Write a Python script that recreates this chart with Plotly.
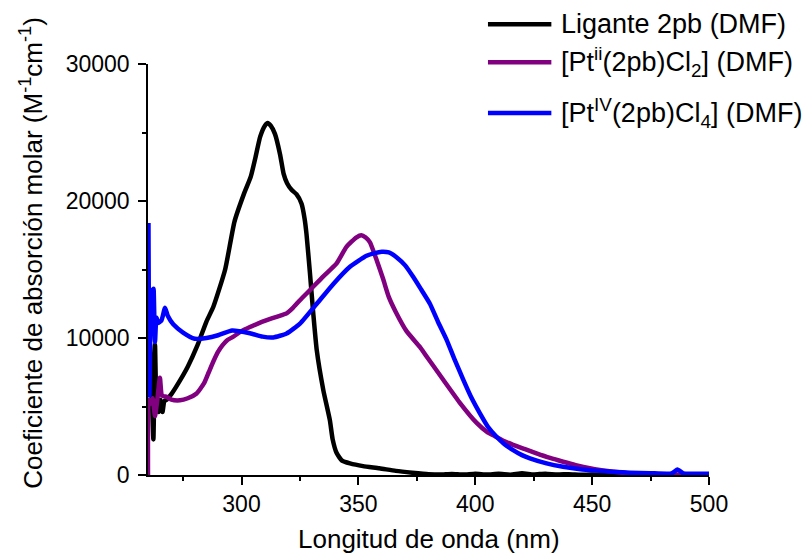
import plotly.graph_objects as go

# ---------------- data ----------------
wl_lig = [260.2, 260.7, 261.5, 262.3, 263, 263.7, 264.5, 265.3, 266.2, 267, 268, 270, 273, 277,
          281, 285, 288, 293, 297, 301, 304, 306, 308, 310, 311.2, 312.5, 314.3, 316.5, 318,
          319.5, 321.5, 323.5, 325.7, 327, 327.8, 329.3, 330.7, 332.2, 335, 337.8, 339, 340.7,
          343, 346.4, 352, 359, 366, 373, 380, 385, 390, 395, 400, 405, 410, 415, 420, 425,
          430, 435, 440, 445, 450, 460, 470, 480, 490, 500]
eps_lig = [8000, 9800, 6500, 2600, 9500, 5000, 4600, 5500, 4600, 5400, 5500, 5900, 6700, 7900,
           9400, 11200, 12300, 15000, 18500, 20500, 21800, 23200, 24700, 25500, 25700, 25500,
           24900, 23400, 22000, 21300, 20800, 20500, 19800, 18700, 17600, 14700, 11800, 9100,
           6200, 4000, 2600, 1600, 1050, 850, 650, 490, 300, 170, 60, 30, 80, 30, 100, 30, 90,
           20, 120, 40, 100, 30, 60, 20, 30, 0, 0, 0, 0, 0]

wl_pt2 = [260, 260.3, 261, 262, 263, 264, 265.1, 266, 268, 270, 273.7, 277, 280.8, 284, 286,
          288, 290, 292, 294, 296.5, 300, 303.6, 307, 310.8, 315, 319.3, 322, 325, 329.3, 335,
          340.7, 344.9, 349.2, 351.3, 353, 354.9, 357.8, 360.6, 363, 366, 370.6, 376.3, 379.2,
          386.3, 393.5, 400.6, 405, 407.7, 412, 416.2, 421, 426.2, 432, 437.6, 443, 449, 454,
          459, 465, 470, 480, 490, 500]
eps_pt2 = [0, 5500, 5200, 5600, 4300, 5500, 7100, 5800, 5700, 5500, 5450, 5600, 5950, 6700, 7500,
           8300, 9000, 9500, 9850, 10100, 10500, 10800, 11050, 11300, 11550, 11800, 12200, 12760,
           13500, 14500, 15450, 16650, 17350, 17500, 17350, 17000, 15700, 14300, 13000, 11900,
           10500, 9350, 8650, 6950, 5250, 3800, 3150, 2900, 2500, 2200, 1900, 1580, 1250, 970,
           720, 490, 350, 240, 120, 60, 20, 10, 0]

wl_pt4 = [260.2, 260.6, 261.3, 262, 262.4, 263, 263.6, 264.4, 265.8, 267.3, 268.5, 270.8, 275,
          280, 285, 290, 296, 303.6, 309, 313.6, 319.3, 325, 332.2, 339.3, 346.4, 353.5, 357,
          360, 363, 366.3, 370, 373.5, 377, 380.6, 384, 387.8, 391, 394.9, 398.5, 402, 405.5,
          409.1, 412.5, 416.2, 420, 423.4, 430.5, 437.6, 445, 451.9, 460, 466.2, 475, 484,
          486.5, 487.5, 489, 495, 500]
eps_pt4 = [18400, 5800, 13500, 11500, 13600, 9700, 11500, 11100, 11300, 12200, 11600, 11000,
           10400, 9950, 10000, 10200, 10550, 10350, 10100, 10040, 10330, 11050, 12500, 13950,
           15200, 16000, 16200, 16300, 16250, 15900, 15300, 14450, 13500, 12500, 11200, 9850,
           8500, 6950, 5600, 4500, 3500, 2790, 2250, 1820, 1450, 1220, 850, 600, 420, 320, 220,
           170, 130, 120, 400, 300, 120, 100, 90]

series_names = ["Ligante 2pb (DMF)",
                "[Pt<sup>ii</sup>(2pb)Cl<sub>2</sub>] (DMF)",
                "[Pt<sup>IV</sup>(2pb)Cl<sub>4</sub>] (DMF)"]
series_colors = ["#000000", "#800080", "#0000FF"]

x_ticks = [300, 350, 400, 450, 500]
y_ticks = [0, 10000, 20000, 30000]

FONT = "Arial, 'Liberation Sans', sans-serif"

fig = go.Figure()
for wl, eps, name, col in zip([wl_lig, wl_pt2, wl_pt4], [eps_lig, eps_pt2, eps_pt4],
                              series_names, series_colors):
    fig.add_trace(go.Scatter(x=wl, y=eps, mode="lines", name=name,
                             line=dict(color=col, width=4.5, shape="spline", smoothing=0.5),
                             showlegend=False))

axis_common = dict(showgrid=False, zeroline=False, showline=True, linecolor="black",
                   linewidth=1.5, ticks="outside", ticklen=8, tickwidth=1.5,
                   tickcolor="black", tickfont=dict(family=FONT, size=23, color="black"))

fig.update_xaxes(range=[260, 500], tickvals=x_ticks, ticktext=[str(v) for v in x_ticks],
                 minor=dict(ticks="outside", ticklen=4, tickwidth=1.5, tickcolor="black",
                            tickvals=[275, 325, 375, 425, 475]),
                 **axis_common)
fig.update_yaxes(range=[0, 30000], tickvals=y_ticks, ticktext=[str(v) for v in y_ticks],
                 minor=dict(ticks="outside", ticklen=4, tickwidth=1.5, tickcolor="black",
                            tickvals=[5000, 15000, 25000]),
                 ticklabelstandoff=4,
                 **axis_common)

annotations = [
    dict(text="Longitud de onda (nm)", xref="paper", yref="paper", x=0.5, y=-0.155,
         xanchor="center", yanchor="middle", showarrow=False,
         font=dict(family=FONT, size=26, color="black")),
    dict(text="Coeficiente de absorción molar (M<sup>-1</sup>cm<sup>-1</sup>)",
         xref="paper", yref="paper", x=-0.209, y=0.54, textangle=-90,
         xanchor="center", yanchor="middle", showarrow=False,
         font=dict(family=FONT, size=26, color="black")),
]

# legend drawn at the top right
leg_y = [1.097, 1.004, 0.881]
shapes = []
for name, col, yy in zip(series_names, series_colors, leg_y):
    shapes.append(dict(type="line", xref="paper", yref="paper", x0=0.606, x1=0.719,
                       y0=yy, y1=yy, line=dict(color=col, width=4.5)))
    annotations.append(dict(text=name, xref="paper", yref="paper", x=0.732, y=yy,
                            xanchor="left", yanchor="middle", showarrow=False,
                            font=dict(family=FONT, size=27, color="black")))

fig.update_layout(width=806, height=554, autosize=False,
                  margin=dict(l=148, r=97, t=64, b=79),
                  plot_bgcolor="white", paper_bgcolor="white",
                  annotations=annotations, shapes=shapes)

fig.write_html("out.html")
